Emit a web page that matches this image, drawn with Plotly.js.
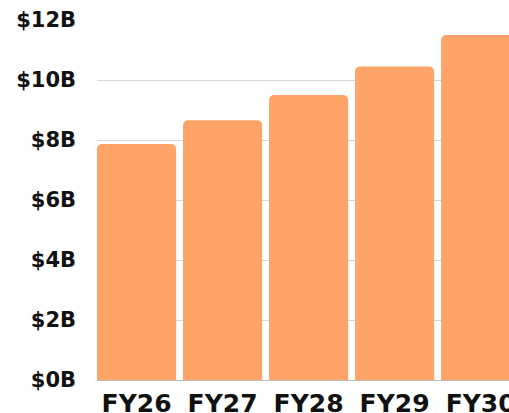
<!DOCTYPE html>
<html>
<head>
<meta charset="utf-8">
<script src="https://cdn.plot.ly/plotly-3.0.1.min.js"></script>
<style>html,body{margin:0;padding:0;background:#fff;overflow:hidden}#chart{width:509px;height:413px}</style>
</head>
<body>
<div id="chart"></div>
<script>
const categories = ["FY26", "FY27", "FY28", "FY29", "FY30"];
const revenueB = [7.87, 8.66, 9.5, 10.45, 11.5];
const tickVals = [0, 2, 4, 6, 8, 10, 12];
const tickText = ["$0B", "$2B", "$4B", "$6B", "$8B", "$10B", "$12B"];

const font = {family: "DejaVu Sans, sans-serif", size: 21, color: "#111111", weight: "bold"};

Plotly.newPlot("chart", [{
  type: "bar",
  x: categories,
  y: revenueB,
  marker: {color: "#FFA468"},
  hoverinfo: "none"
}], {
  width: 509, height: 413,
  margin: {l: 97, r: 0, t: 20, b: 33},
  paper_bgcolor: "#ffffff", plot_bgcolor: "#ffffff",
  bargap: 0.08,
  barcornerradius: 5,
  showlegend: false,
  xaxis: {
    type: "category",
    range: [-0.46, 4.33],
    showgrid: false, zeroline: false, showline: false,
    ticks: "", tickfont: Object.assign({}, font, {size: 25}),
    ticklabelstandoff: 6,
    fixedrange: true
  },
  yaxis: {
    range: [0, 12],
    tickvals: tickVals, ticktext: tickText,
    showgrid: true, gridcolor: "#d6d6d6", gridwidth: 1,
    zeroline: true, zerolinecolor: "#bdbdbd", zerolinewidth: 1,
    showline: false, ticks: "",
    tickfont: font,
    ticklabelstandoff: 20,
    fixedrange: true
  }
}, {displayModeBar: false, staticPlot: true});
</script>
</body>
</html>
